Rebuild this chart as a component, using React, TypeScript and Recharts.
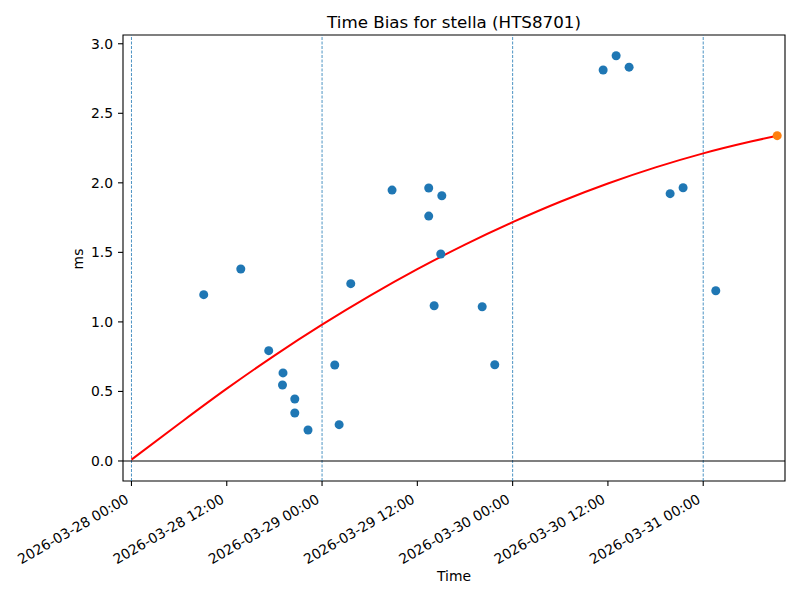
import React from 'react';
import {
  ComposedChart,
  Scatter,
  Line,
  XAxis,
  YAxis,
  ReferenceLine,
  ReferenceArea,
} from 'recharts';

// measured offsets (UTC timestamps) and time bias in ms
const sampleTimes = [
  '2026-03-28 09:06', '2026-03-28 13:46', '2026-03-28 17:17', '2026-03-28 19:05',
  '2026-03-28 19:01', '2026-03-28 20:34', '2026-03-28 20:34', '2026-03-28 22:14',
  '2026-03-29 01:36', '2026-03-29 02:09', '2026-03-29 03:37', '2026-03-29 08:49',
  '2026-03-29 13:26', '2026-03-29 15:05', '2026-03-29 13:26', '2026-03-29 14:57',
  '2026-03-29 14:07', '2026-03-29 20:10', '2026-03-29 21:45', '2026-03-30 11:24',
  '2026-03-30 13:02', '2026-03-30 14:40', '2026-03-30 19:50', '2026-03-30 21:28',
  '2026-03-31 01:35',
];
const sampleBias = [
  1.196, 1.38, 0.793, 0.633,
  0.546, 0.446, 0.345, 0.223,
  0.69, 0.261, 1.275, 1.948,
  1.963, 1.907, 1.761, 1.488,
  1.116, 1.109, 0.692, 2.811,
  2.914, 2.832, 1.922, 1.965,
  1.224,
];

// fitted trend
const fitTimes = [
  '2026-03-28 00:00', '2026-03-28 06:00', '2026-03-28 12:00', '2026-03-28 18:00',
  '2026-03-29 00:00', '2026-03-29 06:00', '2026-03-29 12:00', '2026-03-29 18:00',
  '2026-03-30 00:00', '2026-03-30 06:00', '2026-03-30 12:00', '2026-03-30 18:00',
  '2026-03-31 00:00', '2026-03-31 06:00', '2026-03-31 09:19',
];
const fitBias = [
  0.01, 0.268, 0.52, 0.758,
  0.98, 1.187, 1.379, 1.556,
  1.717, 1.864, 1.995, 2.111,
  2.212, 2.297, 2.339,
];

const latestTime = '2026-03-31 09:19';
const latestBias = 2.339;

const xTickTimes = [
  '2026-03-28 00:00', '2026-03-28 12:00', '2026-03-29 00:00', '2026-03-29 12:00',
  '2026-03-30 00:00', '2026-03-30 12:00', '2026-03-31 00:00',
];
const dayLines = ['2026-03-28 00:00', '2026-03-29 00:00', '2026-03-30 00:00', '2026-03-31 00:00'];
const yTicks = [0, 0.5, 1, 1.5, 2, 2.5, 3];

const xRange = ['2026-03-27 22:56', '2026-03-31 10:18'];
const yRange = [-0.144, 3.063];

const toMs = (s: string) => Date.parse(s.replace(' ', 'T') + ':00Z');
const pad = (n: number) => String(n).padStart(2, '0');
const fmtTime = (ms: number) => {
  const d = new Date(ms);
  return `${d.getUTCFullYear()}-${pad(d.getUTCMonth() + 1)}-${pad(d.getUTCDate())} ${pad(d.getUTCHours())}:${pad(d.getUTCMinutes())}`;
};

const samples = sampleTimes.map((s, i) => ({ t: toMs(s), v: sampleBias[i] }));
const fit = fitTimes.map((s, i) => ({ t: toMs(s), v: fitBias[i] }));
const latest = [{ t: toMs(latestTime), v: latestBias }];
const xMin = toMs(xRange[0]);
const xMax = toMs(xRange[1]);

const FONT = '"DejaVu Sans", sans-serif';

const XTick = (props: any) => { // eslint-disable-line @typescript-eslint/no-explicit-any
  const { x, y, payload } = props;
  return (
    <text
      transform={`translate(${x - 1.7},${y + 16}) rotate(-30)`}
      textAnchor="end"
      fontSize={13.9}
      fontFamily={FONT}
      fill="#000"
    >
      {fmtTime(payload.value)}
    </text>
  );
};

const dot = (color: string) => (props: any) => ( // eslint-disable-line @typescript-eslint/no-explicit-any
  <circle cx={props.cx} cy={props.cy} r={4.5} fill={color} />
);

export default function App() {
  return (
    <div style={{ position: 'absolute', left: 0, top: 0, width: 800, height: 600, background: '#fff', fontFamily: FONT }}>
      <div style={{ position: 'absolute', left: 123, width: 662, top: 12, textAlign: 'center', fontSize: 16.7, color: '#000' }}>
        Time Bias for stella (HTS8701)
      </div>
      <div style={{ position: 'absolute', left: 78, top: 259, transform: 'translate(-50%, -50%) rotate(-90deg)', fontSize: 13.9, color: '#000' }}>
        ms
      </div>
      <div style={{ position: 'absolute', left: 123, width: 662, top: 568, textAlign: 'center', fontSize: 13.9, color: '#000' }}>
        Time
      </div>
      <ComposedChart width={800} height={600} margin={{ top: 35, right: 15, left: 0, bottom: 0 }}>
        <XAxis
          type="number"
          dataKey="t"
          domain={[xMin, xMax]}
          allowDataOverflow
          ticks={xTickTimes.map(toMs)}
          interval={0}
          tick={<XTick />}
          tickSize={5}
          tickMargin={0}
          tickLine={{ stroke: '#000', strokeWidth: 1.1 }}
          axisLine={false}
          height={119}
        />
        <YAxis
          type="number"
          domain={yRange}
          allowDataOverflow
          ticks={yTicks}
          interval={0}
          tickFormatter={(v: number) => v.toFixed(1)}
          tick={{ fill: '#000', fontSize: 13.9, fontFamily: FONT }}
          tickSize={5}
          tickMargin={5}
          tickLine={{ stroke: '#000', strokeWidth: 1.1 }}
          axisLine={false}
          width={123}
        />
        {dayLines.map((d) => (
          <ReferenceLine key={d} x={toMs(d)} stroke="#1f77b4" strokeWidth={0.8} strokeDasharray="3 1.5" />
        ))}
        <ReferenceLine y={0} stroke="#000" strokeWidth={1.1} />
        <Line
          data={fit}
          dataKey="v"
          type="monotone"
          stroke="#ff0000"
          strokeWidth={2}
          dot={false}
          isAnimationActive={false}
        />
        <Scatter data={samples} dataKey="v" shape={dot('#1f77b4')} isAnimationActive={false} />
        <Scatter data={latest} dataKey="v" shape={dot('#ff7f0e')} isAnimationActive={false} />
        <ReferenceArea x1={xMin} x2={xMax} y1={yRange[0]} y2={yRange[1]} fill="none" stroke="#000" strokeWidth={1.1} />
      </ComposedChart>
    </div>
  );
}
